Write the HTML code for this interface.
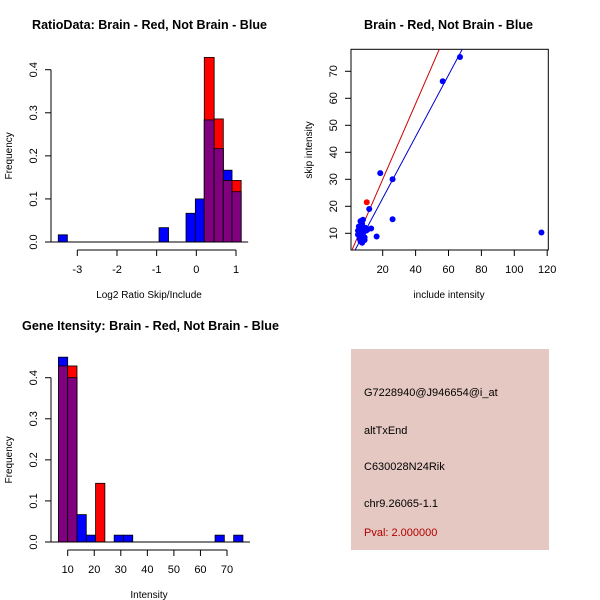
<!DOCTYPE html>
<html><head><meta charset="utf-8"><style>
html,body{margin:0;padding:0;background:#fff}
svg{display:block;font-family:"Liberation Sans",sans-serif}
</style></head><body>
<svg id="c" width="600" height="600" viewBox="0 0 600 600" xmlns="http://www.w3.org/2000/svg">
<text x="32" y="29" font-size="13" font-weight="bold" textLength="235" lengthAdjust="spacingAndGlyphs">RatioData: Brain - Red, Not Brain - Blue</text>
<text x="364" y="29" font-size="13" font-weight="bold" textLength="169" lengthAdjust="spacingAndGlyphs">Brain - Red, Not Brain - Blue</text>
<text x="22" y="330" font-size="13" font-weight="bold" textLength="257" lengthAdjust="spacingAndGlyphs">Gene Itensity: Brain - Red, Not Brain - Blue</text>
<rect x="351" y="349" width="198" height="201" fill="#e5c8c2"/>
<text x="364" y="396" font-size="11">G7228940@J946654@i_at</text>
<text x="364" y="434" font-size="11">altTxEnd</text>
<text x="364" y="470" font-size="11">C630028N24Rik</text>
<text x="364" y="507" font-size="11">chr9.26065-1.1</text>
<text x="364" y="536" font-size="11" fill="#b00000">Pval: 2.000000</text>
<g id="g1"></g><g id="g2"></g><g id="g3"></g>
</svg>
<script>
// Histogram 1 data
const ratioBinStarts = [-3.48,-0.94,-0.26,-0.025,0.2,0.45,0.68,0.9];
const ratioBinEnds = [-3.25,-0.70,-0.025,0.2,0.45,0.68,0.9,1.13];
const ratioBlue = [0.0167,0.0333,0.0667,0.1,0.2833,0.2167,0.1667,0.1167];
const ratioRed = [0,0,0,0,0.4286,0.2857,0.1429,0.1429];
const ratioXTicks = [-3,-2,-1,0,1];
const ratioYTicks = [0,0.1,0.2,0.3,0.4];
// Histogram 2 data
const intBinStarts = [6.5,10,13.5,17,20.5,27.5,31,65.5,72.5];
const intBinEnds = [10,13.5,17,20.5,24,31,34.5,69,76];
const intBlue = [0.45,0.4,0.0667,0.0167,0,0.0167,0.0167,0.0167,0.0167];
const intRed = [0.4286,0.4286,0,0,0.1429,0,0,0,0];
const intXTicks = [10,20,30,40,50,60,70];
const intYTicks = [0,0.1,0.2,0.3,0.4];
// Scatter data
const blueX = [116.5,67,56.5,26,26,18.5,16.3,11.8,13,5,5,5.5,6,6,6.5,6.5,7,7,7.5,7.5,8,8,8,8.5,9,9,9.5,10,11,9,7,6,5.5,6.5,7.5];
const blueY = [10.3,75.3,66.3,30,15.2,32.3,8.8,19,11.8,9.5,11,10.5,12,8,7,14.5,13,9,11,6.5,15,12,10,7.5,11,8.5,12,11,11.5,7.5,11.5,10,12.5,9.5,13.5];
const redX = [10.3];
const redY = [21.5];
const redLine = [1.98,1.40];   // intercept, slope
const blueLine = [0.15,1.141];
const scXTicks = [20,40,60,80,100,120];
const scYTicks = [10,20,30,40,50,60,70];

const NS="http://www.w3.org/2000/svg";
function mk(p,t,a){const e=document.createElementNS(NS,t);for(const k in a)e.setAttribute(k,a[k]);p.appendChild(e);return e;}

function hist(g,starts,ends,blue,red,xt,yt,x0,x1,px0,px1,y0,y1,py0,py1,axY,xlab){
  const sx=v=>px0+(v-x0)/(x1-x0)*(px1-px0);
  const sy=v=>py0+(v-y0)/(y1-y0)*(py1-py0);
  for(let i=0;i<starts.length;i++){
    const a=sx(starts[i]),b=sx(ends[i]);
    const layers=[[blue[i],'#0000ff'],[red[i],'#ff0000'],[Math.min(blue[i],red[i]),'#800080']];
    layers.forEach(([v,c],j)=>{ if(v>0){
      const r=mk(g,'rect',{x:a,y:sy(v),width:b-a,height:sy(0)-sy(v),fill:c,stroke:'#000','stroke-width':0.8});
      
      
    }});
  }
  const bl=mk(g,'line',{x1:sx(starts[0])-9,x2:sx(ends[ends.length-1])+7,y1:sy(0),y2:sy(0),stroke:'#000'});
  
  
  const ya=mk(g,'line',{x1:51,x2:51,y1:sy(yt[0]),y2:sy(yt[yt.length-1]),stroke:'#000'});
  
  
  yt.forEach(v=>{mk(g,'line',{x1:45,x2:51,y1:sy(v),y2:sy(v),stroke:'#000'});
    const t=mk(g,'text',{x:0,y:0,'font-size':11,'text-anchor':'middle',transform:`translate(37,${sy(v)}) rotate(-90)`});
    t.textContent=v.toFixed(1);
    
    });
  const xa=mk(g,'line',{x1:sx(xt[0]),x2:sx(xt[xt.length-1]),y1:axY,y2:axY,stroke:'#000'});
  
  
  xt.forEach(v=>{mk(g,'line',{x1:sx(v),x2:sx(v),y1:axY,y2:axY+6,stroke:'#000'});
    const t=mk(g,'text',{x:sx(v),y:axY+23,'font-size':11,'text-anchor':'middle'});
    t.textContent=v;
    
    });
  const yl=mk(g,'text',{'font-size':10,'text-anchor':'middle',transform:`translate(12,${(sy(0)+sy(0.4))/2}) rotate(-90)`});
  yl.textContent='Frequency';
  
  
  const xl=mk(g,'text',{x:149,y:axY+48,'font-size':10,'text-anchor':'middle'});
  xl.textContent=xlab;
  
  
}
hist(document.getElementById('g1'),ratioBinStarts,ratioBinEnds,ratioBlue,ratioRed,ratioXTicks,ratioYTicks,-3,1,77.3,236,0,0.4,242,69.7,250,'Log2 Ratio Skip/Include');
hist(document.getElementById('g3'),intBinStarts,intBinEnds,intBlue,intRed,intXTicks,intYTicks,10,70,67.7,227,0,0.4,542,377.7,550,'Intensity');

(function(){
  const g=document.getElementById('g2');
  const L=351,R=548.3,T=49.3,B=250;
  const sx=v=>349.8+v*1.645;
  const sy=v=>233.3-(v-10)*2.7;
  mk(g,'clipPath',{id:'clp'}).appendChild(document.createElementNS(NS,'rect'));
  const cr=g.querySelector('#clp rect');cr.setAttribute('x',L);cr.setAttribute('y',T);cr.setAttribute('width',R-L);cr.setAttribute('height',B-T);
  const box=mk(g,'rect',{x:L,y:T,width:R-L,height:B-T,fill:'none',stroke:'#000'});
  
  
  [[redLine,'#cc0000','red-fit-line'],[blueLine,'#0000cc','blue-fit-line']].forEach(([p,c,n])=>{
    const ln=mk(g,'line',{x1:sx(0),y1:sy(p[0]),x2:sx(130),y2:sy(p[0]+p[1]*130),stroke:c,'stroke-width':1,'clip-path':'url(#clp)'});
    
    
  });
  blueX.forEach((x,i)=>{const c=mk(g,'circle',{cx:sx(x),cy:sy(blueY[i]),r:3,fill:'#0000ff'});
    
    });
  redX.forEach((x,i)=>{const c=mk(g,'circle',{cx:sx(x),cy:sy(redY[i]),r:3,fill:'#ff0000'});
    
    });
  scXTicks.forEach(v=>{mk(g,'line',{x1:sx(v),x2:sx(v),y1:B,y2:B+6,stroke:'#000'});
    const t=mk(g,'text',{x:sx(v),y:B+23,'font-size':11,'text-anchor':'middle'});
    t.textContent=v;
    
    });
  scYTicks.forEach(v=>{mk(g,'line',{x1:L-6,x2:L,y1:sy(v),y2:sy(v),stroke:'#000'});
    const t=mk(g,'text',{'font-size':11,'text-anchor':'middle',transform:`translate(337,${sy(v)}) rotate(-90)`});
    t.textContent=v;
    
    });
  const xl=mk(g,'text',{x:449,y:298,'font-size':10,'text-anchor':'middle'});
  xl.textContent='include intensity';
  
  
  const yl=mk(g,'text',{'font-size':10,'text-anchor':'middle',transform:'translate(312,150) rotate(-90)'});
  yl.textContent='skip intensity';
  
  
})();
</script>
</body></html>
